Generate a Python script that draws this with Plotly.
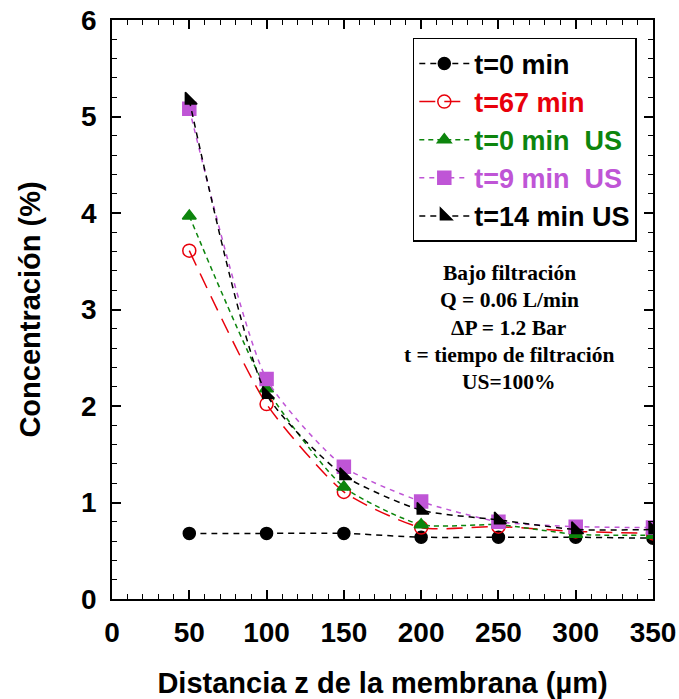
import plotly.graph_objects as go

distance = [50, 100, 150, 200, 250, 300, 350]
t0 = [0.68, 0.68, 0.68, 0.64, 0.64, 0.64, 0.63]
t67 = [3.61, 2.02, 1.11, 0.74, 0.75, 0.70, 0.68]
t0_us = [3.97, 2.18, 1.16, 0.77, 0.77, 0.67, 0.66]
t9_us = [5.08, 2.28, 1.37, 1.01, 0.80, 0.75, 0.74]
t14_us = [5.17, 2.12, 1.28, 0.92, 0.82, 0.72, 0.72]

names = ["t=0 min", "t=67 min", "t=0 min  US", "t=9 min  US", "t=14 min US"]
colors = ["#000000", "#e8000b", "#0d850d", "#bf55d6", "#000000"]
series = [t0, t67, t0_us, t9_us, t14_us]
symbols = ["circle", "circle-open", "triangle-up", "square", "triangle-sw"]
dashes = ["6px,5px", "16px,9px", "5px,4px", "5px,5px", "6px,5px"]
sizes = [12, 13, 12, 13, 13]

note_lines = ["Bajo filtración", "Q = 0.06 L/min", "ΔP = 1.2 Bar",
              "t = tiempo de filtración", "US=100%"]
note_y = [0.563, 0.516, 0.468, 0.421, 0.375]

FONT = "Liberation Sans, Arial, sans-serif"
SERIF = "Liberation Serif, Times New Roman, serif"

fig = go.Figure()
for name, col, ys, sym, dsh, sz in zip(names, colors, series, symbols, dashes, sizes):
    fig.add_trace(go.Scatter(
        x=distance, y=ys, mode="lines+markers",
        name=f"<span style='color:{col}'>{name}</span>",
        line=dict(color=col, width=1.5, dash=dsh, shape="spline", smoothing=0.6),
        marker=dict(symbol=sym, size=sz, color=col,
                    line=dict(color=col, width=1.5)),
    ))

axis_common = dict(
    showline=True, linecolor="black", linewidth=1.5, mirror="allticks",
    ticks="inside", ticklen=9, tickwidth=1.5, tickcolor="black",
    showgrid=False, zeroline=False, ticklabeloverflow="allow", automargin=False,
    tickfont=dict(family=FONT, size=28, color="black", weight="bold"),
)

fig.update_layout(
    width=679, height=699,
    margin=dict(l=112, r=26, t=20, b=100, autoexpand=False),
    paper_bgcolor="white", plot_bgcolor="white",
    hovermode=False,
    xaxis=dict(range=[0, 350], dtick=50, tick0=0,
               minor=dict(ticks="inside", ticklen=5, dtick=10, tickcolor="black", tickwidth=1),
               title=dict(text="Distancia z de la membrana (µm)",
                          font=dict(family=FONT, size=29, color="black", weight="bold"),
                          standoff=28),
               ticklabelstandoff=8,
               **axis_common),
    yaxis=dict(range=[0, 6], dtick=1, tick0=0,
               minor=dict(ticks="inside", ticklen=5, dtick=0.2, tickcolor="black", tickwidth=1),
               title=dict(text="Concentración (%)",
                          font=dict(family=FONT, size=29, color="black", weight="bold"),
                          standoff=32),
               ticklabelstandoff=8,
               **axis_common),
    legend=dict(x=0.556, y=0.969, xanchor="left", yanchor="top",
                bgcolor="white", bordercolor="black", borderwidth=1.5,
                font=dict(family=FONT, size=27, color="black", weight="bold"),
                itemwidth=50, tracegroupgap=0),
    showlegend=True,
)

for line_text, yy in zip(note_lines, note_y):
    fig.add_annotation(
        x=0.734, y=yy, xref="paper", yref="paper", showarrow=False,
        xanchor="center", yanchor="middle", align="center",
        text=line_text,
        font=dict(family=SERIF, size=21.5, color="black", weight="bold"),
    )

# remove the browser's default 8px body margin so the figure fills the window exactly
fig.write_html("out.html",
               config={"displayModeBar": False},
               post_script="document.body.style.margin='0px'; document.body.style.overflow='hidden';")
